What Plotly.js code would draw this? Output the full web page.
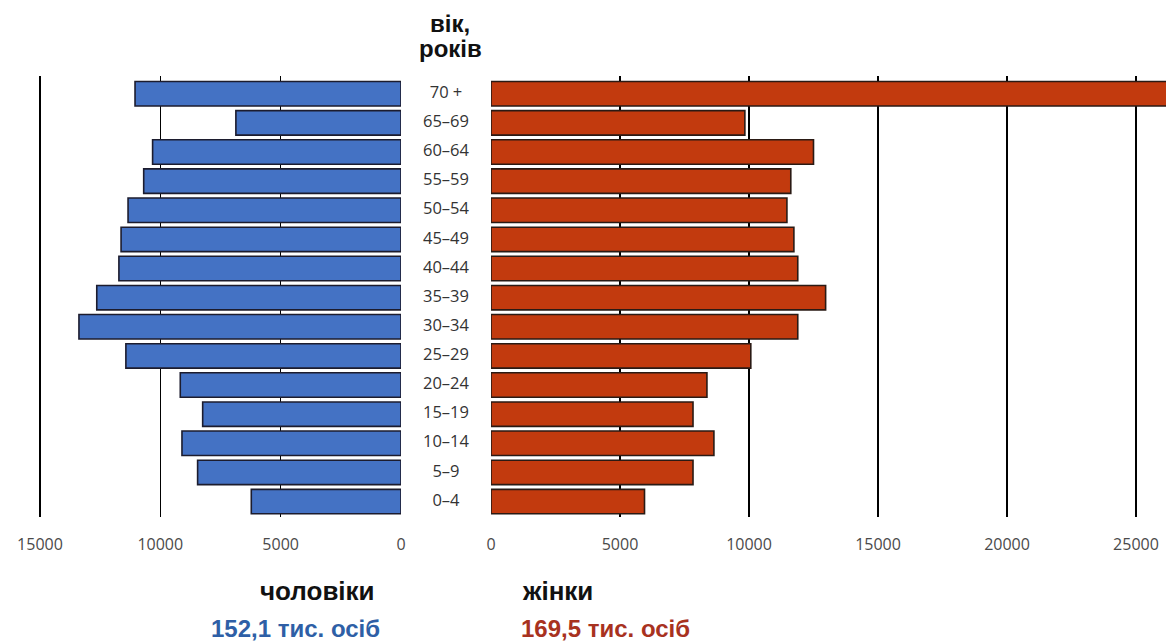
<!DOCTYPE html>
<html>
<head>
<meta charset="utf-8">
<script src="https://cdn.plot.ly/plotly-3.0.1.min.js"></script>
<style>html,body{margin:0;padding:0;background:#fff;}#chart{width:1166px;height:644px;}</style>
</head>
<body>
<div id="chart"></div>
<script>
// Age groups (bottom to top)
const ages = ["0–4","5–9","10–14","15–19","20–24","25–29","30–34","35–39","40–44","45–49","50–54","55–59","60–64","65–69","70 +"];
// Men, persons
const men = [6220, 8450, 9100, 8240, 9170, 11430, 13380, 12640, 11720, 11630, 11340, 10690, 10320, 6860, 11050];
// Women, persons
const women = [5950, 7830, 8640, 7830, 8370, 10070, 11890, 12970, 11890, 11740, 11470, 11620, 12500, 9840, 26900];
const menTicks = [0, 5000, 10000, 15000];
const menGrid = [5000, 10000, 15000];
const womenTicks = [0, 5000, 10000, 15000, 20000, 25000];
const womenGrid = [5000, 10000, 15000, 20000, 25000];
const titleAge = ["вік,", "років"];
const labelMen = "чоловіки", labelWomen = "жінки";
const totalMen = "152,1 тис. осіб", totalWomen = "169,5 тис. осіб";

const W = 1166, H = 644, T = 76, B = 127;
const px = x => x / W;
const py = y => (H - B - y) / (H - T - B);

const tickFont = {family: "Open Sans, sans-serif", size: 16, color: "#4a4a4a"};
const gridStyle = {showgrid: true, gridcolor: "#000", gridwidth: 1.6, ticks: ""};
const boldFont = (size, color) => ({family: "Liberation Sans, Arial, sans-serif", size: size, color: color});

const traces = [
  {type: "bar", orientation: "h", y: ages, x: men, xaxis: "x", yaxis: "y",
   marker: {color: "#4472C4", line: {color: "#1c1c2e", width: 1.6}}, hoverinfo: "none"},
  {type: "bar", orientation: "h", y: ages, x: women, xaxis: "x2", yaxis: "y",
   marker: {color: "#C23A0E", line: {color: "#2a1a14", width: 1.6}}, hoverinfo: "none"},
  {type: "scatter", mode: "text", y: ages, x: ages.map(() => 0), text: ages, xaxis: "x3", yaxis: "y",
   textposition: "middle center", textfont: {family: "Open Sans, sans-serif", size: 16.5, color: "#333"},
   hoverinfo: "none", cliponaxis: false}
];

function note(text, x, y, font) {
  return {text: "<b>" + text + "</b>", x: px(x), y: py(y), xref: "paper", yref: "paper",
          showarrow: false, xanchor: "center", yanchor: "middle", font: font};
}

const layout = {
  width: W, height: H,
  margin: {l: 0, r: 0, t: T, b: B},
  paper_bgcolor: "#fff", plot_bgcolor: "rgba(0,0,0,0)",
  showlegend: false, bargap: 0.16,
  xaxis: {domain: [0, px(401)], range: [16660, 0], tickvals: menTicks, ticktext: menTicks.map(String),
          showgrid: false, zeroline: false, showline: false, ticks: "", tickfont: tickFont,
          ticklabelstandoff: 16, minor: Object.assign({tickvals: menGrid}, gridStyle), fixedrange: true},
  xaxis2: {domain: [px(491), 1], range: [0, 26163], tickvals: womenTicks, ticktext: womenTicks.map(String),
           showgrid: false, zeroline: false, showline: false, ticks: "", tickfont: tickFont,
           ticklabelstandoff: 16, minor: Object.assign({tickvals: womenGrid}, gridStyle), anchor: "y", fixedrange: true},
  xaxis3: {domain: [px(401), px(491)], range: [-1, 1], visible: false, anchor: "y", fixedrange: true},
  yaxis: {range: [-0.53, 14.61], showticklabels: false, showgrid: false, zeroline: false, showline: false,
          ticks: "", type: "category", categoryorder: "array", categoryarray: ages, fixedrange: true},
  annotations: [
    note(titleAge[0], 450, 24, boldFont(24, "#111")),
    note(titleAge[1], 450, 49, boldFont(24, "#111")),
    note(labelMen, 317, 591, boldFont(26, "#111")),
    note(labelWomen, 557, 591, boldFont(26, "#111")),
    note(totalMen, 295, 628, boldFont(24, "#2E5FA6")),
    note(totalWomen, 605, 628, boldFont(24, "#A8321F"))
  ]
};

Plotly.newPlot("chart", traces, layout, {displayModeBar: false, staticPlot: true});
</script>
</body>
</html>
